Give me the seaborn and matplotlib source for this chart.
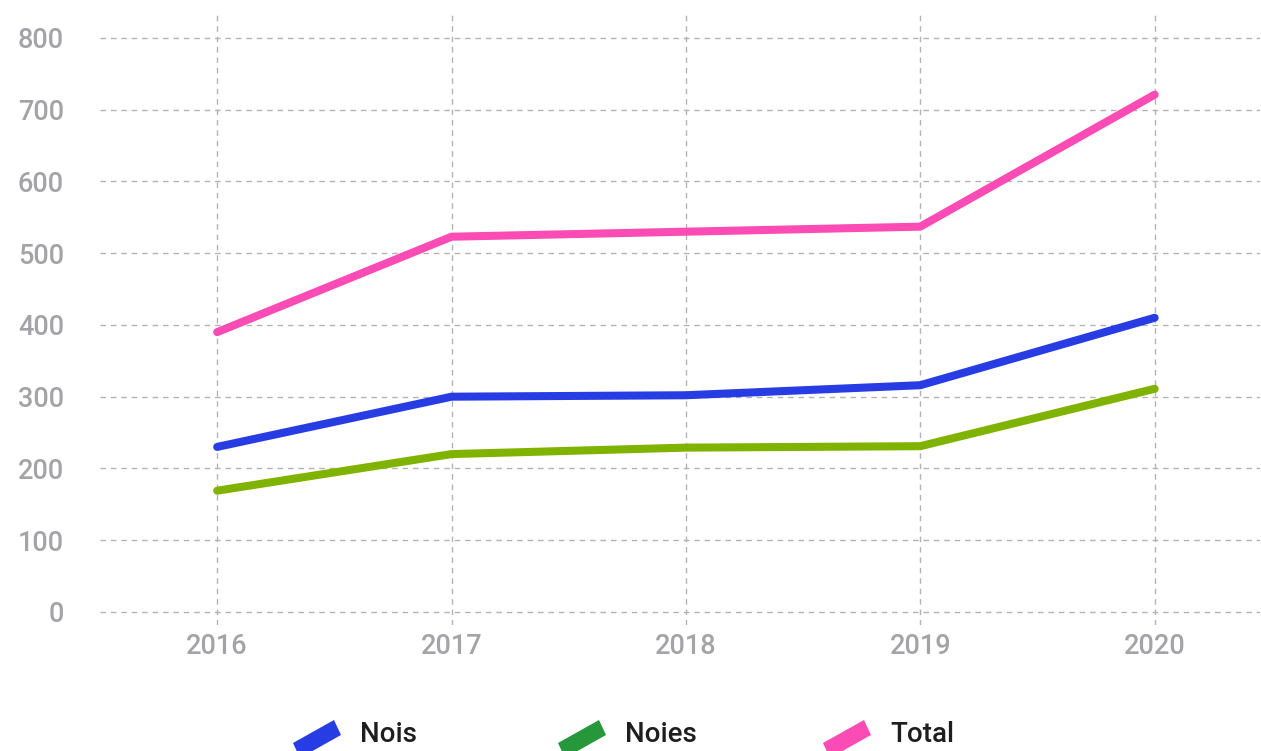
import pandas as pd
import seaborn as sns
import matplotlib.pyplot as plt
import matplotlib.patches as mpatches

years = [2016, 2017, 2018, 2019, 2020]
nois = [230, 300, 302, 316, 410]
noies = [169, 220, 229, 231, 311]
total = [390, 523, 530, 537, 721]

series_names = ['Nois', 'Noies', 'Total']
line_colors = ['#273de3', '#80b300', '#fb4bb5']
legend_colors = ['#273de3', '#26973a', '#fb4bb5']

y_ticks = [0, 100, 200, 300, 400, 500, 600, 700, 800]

# long-form table for seaborn
df = pd.DataFrame({
    'any': years * 3,
    'valor': nois + noies + total,
    'serie': [s for s in series_names for _ in years],
})

sns.set_style('white')
plt.rcParams['font.family'] = ['Roboto', 'DejaVu Sans']

fig = plt.figure(figsize=(12.61, 7.51), dpi=100)
ax = fig.add_axes([0.0793, 0.168, 0.92, 0.812])

sns.lineplot(data=df, x='any', y='valor', hue='serie', hue_order=series_names,
             palette=dict(zip(series_names, line_colors)), linewidth=5.8,
             solid_capstyle='round', legend=False, ax=ax)

ax.set_xlim(2015.5, 2020.45)
ax.set_ylim(-18, 832)
ax.set_xticks(years)
ax.set_yticks(y_ticks)
ax.set_xlabel('')
ax.set_ylabel('')
ax.grid(True, color='#b3b3b3', linestyle=(0, (4, 3.5)), linewidth=1.0)
ax.set_axisbelow(True)
for sp in ax.spines.values():
    sp.set_visible(False)
ax.tick_params(axis='both', length=0, labelsize=19.5, labelcolor='#a3a3a8')
for lab in ax.get_xticklabels() + ax.get_yticklabels():
    lab.set_fontweight('medium')
ax.tick_params(axis='y', pad=26)
ax.tick_params(axis='x', pad=6)

# legend: tilted swatches + labels, evenly spaced
W, H = fig.get_size_inches() * fig.dpi
for i, (name, col) in enumerate(zip(series_names, legend_colors)):
    cx = 317 + 265 * i
    cy = 738
    # parallelogram rising to the right (~30 degrees)
    pts = [(cx - 24, cy + 5), (cx + 17, cy - 18), (cx + 24, cy - 3), (cx - 17, cy + 20)]
    poly = mpatches.Polygon([(x / W, 1 - y / H) for x, y in pts], closed=True,
                            facecolor=col, edgecolor='none', transform=fig.transFigure)
    fig.add_artist(poly)
    fig.text((cx + 43) / W, 1 - 735 / H, name, fontsize=20, color='#1e1e1e',
             va='center', ha='left', fontweight='medium')

fig.savefig('out.png', dpi=100)
